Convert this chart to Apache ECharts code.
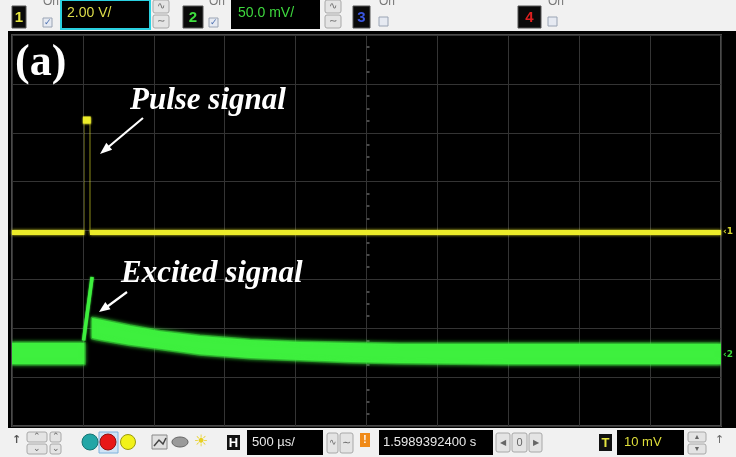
<!DOCTYPE html>
<html><head><meta charset="utf-8">
<script src="https://cdn.jsdelivr.net/npm/echarts@6/dist/echarts.min.js"></script>
<style>html,body{margin:0;padding:0;background:#f0f0f0}#c{width:736px;height:457px}</style>
</head><body><div id="c"></div>
<script>
// ---- data (divisions: x = 500 µs/div, y = vertical div) ----
const xDivisions = [0, 10];
const yDivisions = [0, 8];
const yellowLevel = 3.96;
const yellowLeftX = [0, 1.02];
const yellowRightX = [1.10, 10];
const pulseTopX = [1.0, 1.11];
const pulseTopY = 6.26;
const pulseEdgeX = [1.02, 1.10];
const greenPreX = [0, 1.02];
const greenPreUpper = [1.70, 1.70];
const greenPreLower = [1.27, 1.27];
const greenSpikeX = [1.01, 1.13];
const greenSpikeY = [1.75, 3.05];
const greenPostX = [1.13, 1.27, 1.66, 2.09, 2.65, 3.36, 4.06, 4.77, 5.47, 7.0, 10];
const greenPostUpper = [2.21, 2.17, 2.05, 1.94, 1.84, 1.76, 1.72, 1.70, 1.68, 1.68, 1.68];
const greenPostLower = [1.80, 1.76, 1.66, 1.58, 1.47, 1.39, 1.35, 1.31, 1.29, 1.27, 1.27];
const ch1Scale = '2.00 V/';
const ch2Scale = '50.0 mV/';
const timeScale = '500 µs/';
const timePos = '1.5989392400 s';
const trigLevel = '10 mV';

const YEL = '#ecec2a', GRN = '#3ef03e';
const chart = echarts.init(document.getElementById('c'), null, {renderer:'canvas'});

function bandSeries(X, U, L, color) {
  return {
    type:'custom', xAxisIndex:0, yAxisIndex:0, data:[[X[0], U[0]]], clip:true, z:3,
    renderItem: function(params, api) {
      const pts = [];
      for (let i = 0; i < X.length; i++) pts.push(api.coord([X[i], U[i]]));
      for (let i = X.length - 1; i >= 0; i--) pts.push(api.coord([X[i], L[i]]));
      return {type:'polygon', shape:{points:pts},
        style:{fill:color, stroke:'rgba(62,240,62,0.45)', lineWidth:3, lineJoin:'round', shadowBlur:4, shadowColor:color}};
    }
  };
}
function lineSeries(xs, ys, color, width, opacity, blur) {
  return {type:'line', xAxisIndex:0, yAxisIndex:0, symbol:'none', silent:true, z:4,
    data: xs.map((x, i) => [x, Array.isArray(ys) ? ys[i] : ys]),
    lineStyle:{color, width, opacity: opacity == null ? 1 : opacity, shadowBlur: blur || 0, shadowColor: color}};
}

// ---- UI helpers (toolbar decorations) ----
const G = [];
function R(x,y,w,h,fill,stroke,lw,r){G.push({type:'rect',shape:{x,y,width:w,height:h,r:r||0},style:{fill,stroke:stroke||null,lineWidth:lw||1},z:10});}
function T(x,y,t,fill,size,o){G.push({type:'text',x,y,style:Object.assign({text:t,fill,font:(o&&o.font)||(size+'px "Liberation Sans"'),align:'left',verticalAlign:'middle'},o||{}),z:11});}
function C(cx,cy,r,fill,stroke){G.push({type:'circle',shape:{cx,cy,r},style:{fill,stroke:stroke||null,lineWidth:1},z:11});}
function btn(x,y,w,h,glyph,size){R(x,y,w,h,'#e4e4e4','#a8a8a8',1,2);T(x+w/2,y+h/2,glyph,'#666',size||11,{align:'center'});}
function chk(x,y,checked){R(x,y,9,9,'#e6eaf2','#9aa4b4',1);if(checked)T(x+4.5,y+4.5,'✓','#4a6fb0',9,{align:'center'});}
function chBox(x,y,w,h,label,color){R(x,y,w,h,'#0a0a0a','#555',1);T(x+w/2,y+h/2+1,label,color,15,{align:'center',font:'bold 15px "Liberation Sans"'});}

// background bars
R(0,0,736,31,'#f1f1f1');
R(0,428,736,29,'#f1f1f1');
G.push({type:'rect',shape:{x:8,y:31,width:728,height:397},style:{fill:'#000'},z:-10});

// top toolbar
chBox(12,6,14,22,'1','#e6e640');
T(43,2,'On','#777',12);chk(43,18,true);
R(61,0,89,29,'#000','#2ad0e0',2);T(67,13,ch1Scale,'#dede4a',14);
btn(153,0,16,13,'∿',10);btn(153,15,16,13,'∼',10);
chBox(183,6,20,22,'2','#3ede3e');
T(209,2,'On','#777',12);chk(209,18,true);
R(231,0,89,29,'#000');T(238,13,ch2Scale,'#3ed83e',14);
btn(325,0,16,13,'∿',10);btn(325,15,16,13,'∼',10);
chBox(353,6,17,22,'3','#3a56e0');
T(379,2,'On','#777',12);chk(379,17,false);
chBox(518,6,23,22,'4','#e02020');
T(548,2,'On','#777',12);chk(548,17,false);

// bottom toolbar
T(12,440,'↑','#555',12,{font:'bold 11px "DejaVu Sans"'});
btn(27,432,20,10,'⌃',9);btn(27,444,20,10,'⌄',9);
btn(50,432,11,10,'⌃',9);btn(50,444,11,10,'⌄',9);
C(90,442,8,'#22a6a6','#167474');
R(99,432,19,21,'#cfe3f5','#7fb2dc',1);C(108,442,8,'#e81818','#901010');
C(128,442,7.5,'#f2f21a','#9a9a10');
R(152,435,15,14,'#e0e0e0','#888',1);G.push({type:'polyline',shape:{points:[[154,446],[159,440],[163,444],[166,438]]},style:{stroke:'#444',lineWidth:1.5,fill:null},z:12});
G.push({type:'ellipse',shape:{cx:180,cy:442,rx:8,ry:5},style:{fill:'#9a9a9a',stroke:'#666'},z:11});
T(201,442,'☀','#e8d020',16,{align:'center',font:'16px "DejaVu Sans"'});
R(227,435,13,15,'#111');T(233.5,443,'H','#fff',13,{align:'center',font:'bold 13px "Liberation Sans"'});
R(247,430,76,25,'#000');T(252,442,timeScale,'#e8e8e8',13);
btn(327,433,11,20,'∿',9);btn(340,433,13,20,'∼',11);
R(360,433,10,14,'#f08a18');T(365,440,'!','#fff',10,{align:'center',font:'bold 10px "Liberation Sans"'});
R(379,430,114,25,'#000');T(383,442,timePos,'#e8e8e8',13);
btn(496,433,14,19,'◀',8);btn(512,433,15,19,'0',11);btn(529,433,13,19,'▶',8);
R(599,434,13,17,'#111');T(605.5,443,'T','#e6e640',13,{align:'center',font:'bold 13px "Liberation Sans"'});
R(617,430,67,25,'#000');T(624,442,trigLevel,'#dede3a',13);
btn(688,432,18,10,'▲',7);btn(688,444,18,10,'▼',7);
T(715,440,'↑','#666',11,{font:'11px "DejaVu Sans"'});

// channel markers at right edge
T(723,232,'‹1','#d8d830',9,{font:'bold 9px "DejaVu Sans"'});
T(723,355,'‹2','#38d838',9,{font:'bold 9px "DejaVu Sans"'});

// annotations
T(15,64,'(a)','#fff',44,{font:'bold 44px "Liberation Serif"'});
T(130,101,'Pulse signal','#fff',31,{font:'italic bold 31px "Liberation Serif"'});
T(121,274,'Excited signal','#fff',31,{font:'italic bold 31px "Liberation Serif"'});
G.push({type:'line',shape:{x1:143,y1:118,x2:106,y2:149},style:{stroke:'#fff',lineWidth:2.2},z:12});
G.push({type:'polygon',shape:{points:[[100,154],[112.1,149.8],[106.3,142.8]]},style:{fill:'#fff'},z:12});
G.push({type:'line',shape:{x1:127,y1:292,x2:104,y2:309},style:{stroke:'#fff',lineWidth:2.2},z:12});
G.push({type:'polygon',shape:{points:[[99,312],[110.5,309.3],[105.3,301.9]]},style:{fill:'#fff'},z:12});

const gridLine = {lineStyle:{color:'#343434', width:1}};
chart.setOption({
  animation:false,
  backgroundColor:'#f1f1f1',
  grid:{left:12, top:35, width:709, height:391, show:true, backgroundColor:'#000', borderColor:'#4a4a4a', borderWidth:2},
  xAxis:[
    {type:'value', position:'top', min:xDivisions[0], max:xDivisions[1], interval:1, axisLine:{show:false}, axisTick:{show:false}, axisLabel:{show:false}, splitLine:gridLine},
    {type:'value', position:'bottom', offset:-195.5, min:xDivisions[0], max:xDivisions[1], interval:1, axisLine:{show:false}, axisTick:{show:false}, axisLabel:{show:false}, splitLine:{show:false},
     minorTick:{show:true, splitNumber:5, length:3, lineStyle:{color:'#4a4a4a', width:2}}}
  ],
  yAxis:[
    {type:'value', position:'left', min:yDivisions[0], max:yDivisions[1], interval:1, axisLine:{show:false}, axisTick:{show:false}, axisLabel:{show:false}, splitLine:gridLine},
    {type:'value', position:'right', offset:-354.5, min:yDivisions[0], max:yDivisions[1], interval:1, axisLine:{show:false}, axisTick:{show:false}, axisLabel:{show:false}, splitLine:{show:false},
     minorTick:{show:true, splitNumber:4, length:3, lineStyle:{color:'#4a4a4a', width:2}}}
  ],
  graphic:{elements:G},
  series:[
    lineSeries(yellowLeftX, yellowLevel, YEL, 5, 1, 3),
    lineSeries(yellowRightX, yellowLevel, YEL, 5, 1, 3),
    lineSeries(pulseTopX, pulseTopY, YEL, 7, 1, 2),
    lineSeries([pulseEdgeX[1], pulseEdgeX[1]], [pulseTopY, yellowLevel], YEL, 1, 0.6),
    lineSeries([pulseEdgeX[0], pulseEdgeX[0]], [pulseTopY, yellowLevel], YEL, 1, 0.35),
    bandSeries(greenPreX, greenPreUpper, greenPreLower, GRN),
    bandSeries(greenPostX, greenPostUpper, greenPostLower, GRN),
    lineSeries(greenSpikeX, greenSpikeY, GRN, 3.5, 1, 2)
  ]
});
</script></body></html>
